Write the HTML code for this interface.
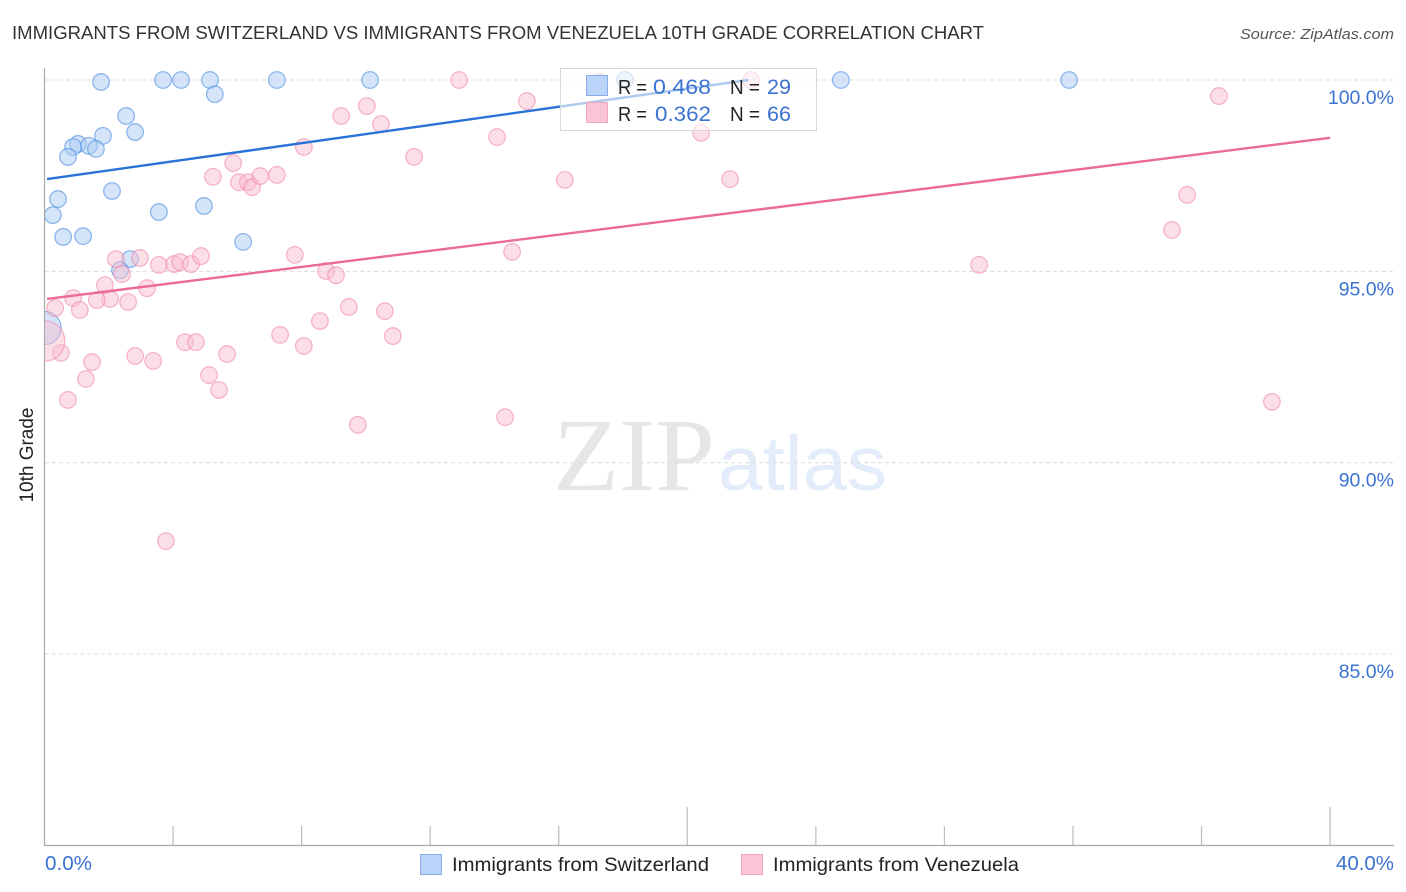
<!DOCTYPE html>
<html lang="en">
<head>
<meta charset="utf-8">
<title>Immigrants from Switzerland vs Immigrants from Venezuela 10th Grade Correlation Chart</title>
<style>
html,body{margin:0;padding:0;background:#fff;}
#chart{display:block;width:1406px;height:892px;font-family:"Liberation Sans",sans-serif;}
</style>
</head>
<body>
<svg id="chart" xmlns="http://www.w3.org/2000/svg" width="1406" height="892" viewBox="0 0 1406 892">
  <defs>
    <clipPath id="plot-clip"><rect x="45" y="60" width="1349" height="785"/></clipPath>
  </defs>
  <g id="watermark">
    <text x="553" y="490" font-family="'Liberation Serif',serif" font-size="104" fill="#e6e6e6" textLength="162" lengthAdjust="spacingAndGlyphs">ZIP</text>
    <text x="718" y="490" style="font-family:'Liberation Sans',sans-serif" font-size="77" fill="#e3ecfa" textLength="169" lengthAdjust="spacingAndGlyphs">atlas</text>
  </g>
  <g id="grid"></g>
  <g id="marks-blue" clip-path="url(#plot-clip)"></g>
  <g id="marks-pink" clip-path="url(#plot-clip)"></g>
  <g id="trends" clip-path="url(#plot-clip)"></g>
  <g id="axes"></g>

  <text x="12" y="39" font-size="18.5" fill="#333" textLength="972" lengthAdjust="spacingAndGlyphs">IMMIGRANTS FROM SWITZERLAND VS IMMIGRANTS FROM VENEZUELA 10TH GRADE CORRELATION CHART</text>
  <text x="1394" y="39" font-size="15" font-style="italic" fill="#555" text-anchor="end" textLength="154" lengthAdjust="spacingAndGlyphs">Source: ZipAtlas.com</text>
  <text transform="translate(33,455) rotate(-90)" font-size="19" fill="#222" text-anchor="middle" textLength="95" lengthAdjust="spacingAndGlyphs">10th Grade</text>

  <g>
    <rect x="560.5" y="68.5" width="256" height="62" fill="#fff" fill-opacity="0.62" stroke="#d8d8d8" stroke-width="1"/>
    <rect x="586.5" y="75.5" width="21" height="20" fill="#b9d4f8" stroke="#86ade6" stroke-width="1"/>
    <rect x="586.5" y="102.5" width="21" height="20" fill="#fcc5d6" stroke="#f3a6bf" stroke-width="1"/>
    <text x="618" y="94" font-size="20" fill="#222" textLength="29" lengthAdjust="spacingAndGlyphs">R =</text>
    <text x="653" y="94" font-size="21" fill="#3b73d1" textLength="58" lengthAdjust="spacingAndGlyphs">0.468</text>
    <text x="730" y="94" font-size="20" fill="#222" textLength="30" lengthAdjust="spacingAndGlyphs">N =</text>
    <text x="767" y="94" font-size="21" fill="#3b73d1" textLength="24" lengthAdjust="spacingAndGlyphs">29</text>
    <text x="618" y="121" font-size="20" fill="#222" textLength="29" lengthAdjust="spacingAndGlyphs">R =</text>
    <text x="655" y="121" font-size="21" fill="#3b73d1" textLength="56" lengthAdjust="spacingAndGlyphs">0.362</text>
    <text x="730" y="121" font-size="20" fill="#222" textLength="30" lengthAdjust="spacingAndGlyphs">N =</text>
    <text x="767" y="121" font-size="21" fill="#3b73d1" textLength="24" lengthAdjust="spacingAndGlyphs">66</text>
  </g>

  <g>
    <g>
      <rect x="420.5" y="854.5" width="21" height="20" fill="#b9d4f8" stroke="#86ade6" stroke-width="1"/>
      <text x="452" y="871" font-size="19.5" fill="#222" textLength="257" lengthAdjust="spacingAndGlyphs">Immigrants from Switzerland</text>
    </g>
    <g>
      <rect x="741.5" y="854.5" width="21" height="20" fill="#fcc5d6" stroke="#f3a6bf" stroke-width="1"/>
      <text x="773" y="871" font-size="19.5" fill="#222" textLength="246" lengthAdjust="spacingAndGlyphs">Immigrants from Venezuela</text>
    </g>
  </g>
</svg>
<script>
const yTickValues = [100, 95, 90, 85];
const yTickLabels = ["100.0%", "95.0%", "90.0%", "85.0%"];
const xTickValues = [0, 4, 8, 12, 16, 20, 24, 28, 32, 36, 40];
const xEndLabels = ["0.0%", "40.0%"];

const switzerlandX = [1.76,3.69,4.25,5.15,5.30,7.23,10.13,2.54,2.82,1.82,1.04,0.89,1.38,1.60,0.73,2.10,0.42,0.26,3.56,4.96,0.58,1.20,6.18,2.66,2.35,18.06,24.78,31.88,0];
const switzerlandY = [99.95,100,100,100,99.63,100,100,99.06,98.64,98.54,98.33,98.25,98.28,98.20,97.99,97.10,96.89,96.47,96.55,96.71,95.90,95.92,95.77,95.32,95.03,100,100,100,93.52];
const switzerlandWeight = [1,1,1,1,1,1,1,1,1,1,1,1,1,1,1,1,1,1,1,1,1,1,1,1,1,1,1,1,4];

const venezuelaX = [12.90,21.98,17.25,36.54,15.01,10.03,9.23,10.47,14.08,20.43,8.07,11.50,5.87,5.24,6.05,6.33,6.46,6.71,7.23,16.19,21.33,35.55,35.08,14.55,7.79,2.97,2.22,3.56,4.03,4.22,4.56,4.87,29.08,8.76,9.07,2.41,3.19,1.88,0.89,2.04,1.63,2.60,0.33,1.10,9.47,10.59,8.57,7.33,10.84,4.37,4.71,8.07,5.68,2.82,3.38,0.51,1.48,0,5.12,1.29,5.43,0.73,38.19,14.33,9.75,3.78];
const venezuelaY = [100,100,99.95,99.58,99.45,99.32,99.06,98.85,98.51,98.62,98.25,97.99,97.83,97.47,97.33,97.33,97.20,97.49,97.52,97.39,97.41,97.00,96.08,95.51,95.43,95.35,95.32,95.17,95.19,95.24,95.19,95.40,95.17,95.01,94.90,94.93,94.56,94.64,94.30,94.28,94.25,94.20,94.04,93.99,94.07,93.96,93.70,93.34,93.31,93.15,93.15,93.05,92.84,92.79,92.66,92.87,92.63,93.18,92.29,92.19,91.90,91.64,91.59,91.19,90.99,87.95];
const venezuelaWeight = [1,1,1,1,1,1,1,1,1,1,1,1,1,1,1,1,1,1,1,1,1,1,1,1,1,1,1,1,1,1,1,1,1,1,1,1,1,1,1,1,1,1,1,1,1,1,1,1,1,1,1,1,1,1,1,1,1,6,1,1,1,1,1,1,1,1];

const switzerlandTrendX = [0.08, 21.9];
const switzerlandTrendY = [97.41, 100];
const venezuelaTrendX = [0.08, 40];
const venezuelaTrendY = [94.28, 98.49];

const SVG_NS = "http://www.w3.org/2000/svg";
function xScale(v) { return 44.5 + v * 32.14; }
function yScale(v) { return 80 + (100 - v) * 38.27; }
function make(tag, attrs, parent) {
  const el = document.createElementNS(SVG_NS, tag);
  Object.keys(attrs).forEach(function (k) { el.setAttribute(k, attrs[k]); });
  parent.appendChild(el);
  return el;
}

const gridGroup = document.getElementById("grid");
const axesGroup = document.getElementById("axes");
yTickValues.forEach(function (v, i) {
  const line = make("line", { x1: 45, x2: 1394, y1: yScale(v), y2: yScale(v), stroke: "#dcdcdc", "stroke-width": 1, "stroke-dasharray": "4 3" }, gridGroup);
  
  
  const label = make("text", { x: 1394, y: yScale(v) + 24, "text-anchor": "end", "font-size": 19.5, fill: "#3b73d1" }, axesGroup);
  label.textContent = yTickLabels[i];
  
  
});

const leftAxis = make("line", { x1: 44.5, x2: 44.5, y1: 68, y2: 846, stroke: "#aaaaaa", "stroke-width": 1.2 }, axesGroup);


const bottomAxis = make("line", { x1: 44, x2: 1394, y1: 845.5, y2: 845.5, stroke: "#aaaaaa", "stroke-width": 1.2 }, axesGroup);



xTickValues.forEach(function (v) {
  const major = v % 20 === 0;
  if (v === 0) { return; }
  const tick = make("line", { x1: xScale(v), x2: xScale(v), y1: major ? 807 : 826, y2: 845, stroke: "#bdbdbd", "stroke-width": 1.2 }, axesGroup);
  
  
});

const xStartLabel = make("text", { x: 45, y: 870, "font-size": 20, fill: "#3b73d1", textLength: 47, lengthAdjust: "spacingAndGlyphs" }, axesGroup);
xStartLabel.textContent = xEndLabels[0];


const xEndLabel = make("text", { x: 1336, y: 870, "font-size": 20, fill: "#3b73d1", textLength: 58, lengthAdjust: "spacingAndGlyphs" }, axesGroup);
xEndLabel.textContent = xEndLabels[1];



function radius(weight) { return 8.3 * Math.sqrt(weight); }

const blueGroup = document.getElementById("marks-blue");
switzerlandX.forEach(function (v, i) {
  const dot = make("circle", { cx: xScale(v), cy: yScale(switzerlandY[i]), r: radius(switzerlandWeight[i]), fill: "#a9c9f3", "fill-opacity": 0.5, stroke: "#5a96e3", "stroke-opacity": 0.7, "stroke-width": 1.2 }, blueGroup);
  
  
});

const pinkGroup = document.getElementById("marks-pink");
venezuelaX.forEach(function (v, i) {
  const dot = make("circle", { cx: xScale(v), cy: yScale(venezuelaY[i]), r: radius(venezuelaWeight[i]), fill: "#f9bdd0", "fill-opacity": 0.5, stroke: "#ee86a8", "stroke-opacity": 0.6, "stroke-width": 1.2 }, pinkGroup);
  
  
});

const trendGroup = document.getElementById("trends");
const blueTrend = make("line", { x1: xScale(switzerlandTrendX[0]), y1: yScale(switzerlandTrendY[0]), x2: xScale(switzerlandTrendX[1]), y2: yScale(switzerlandTrendY[1]), stroke: "#2a72d8", "stroke-width": 2.4 }, trendGroup);


const pinkTrend = make("line", { x1: xScale(venezuelaTrendX[0]), y1: yScale(venezuelaTrendY[0]), x2: xScale(venezuelaTrendX[1]), y2: yScale(venezuelaTrendY[1]), stroke: "#ea6a9a", "stroke-width": 2.4 }, trendGroup);


</script>
</body>
</html>
